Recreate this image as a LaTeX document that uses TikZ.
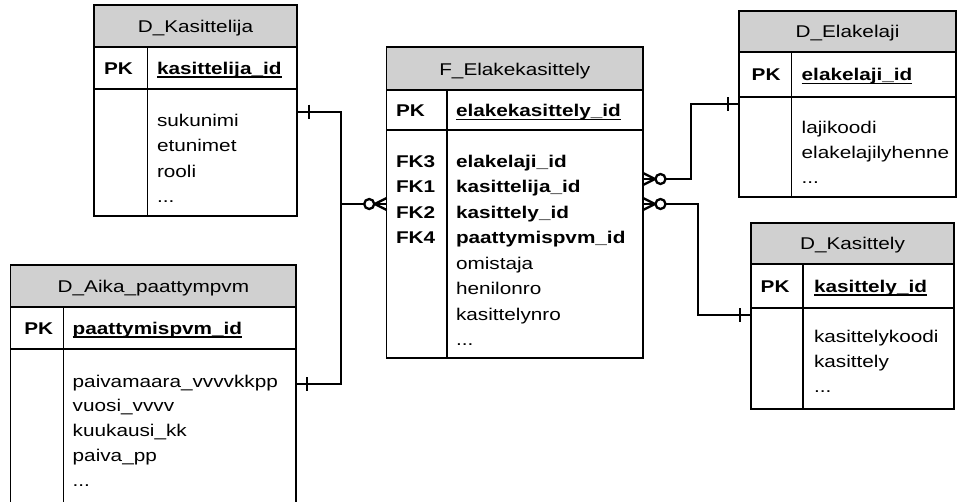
\documentclass[tikz,border=0pt]{standalone}
\usepackage{fontspec}
\setmainfont{Liberation Sans}[FakeStretch=1.22]
\usetikzlibrary{calc}

\definecolor{headgray}{RGB}{208,208,208}
\newcommand{\etc}{...}

\begin{document}
\begin{tikzpicture}[x=1pt,y=-1pt,
  every node/.style={inner sep=0pt, outer sep=0pt},
  frame/.style={draw=black, line width=1.4pt},
  grid/.style={draw=black, line width=1.4pt},
  head/.style={fill=headgray},
  txt/.style={anchor=base west, font=\fontsize{17}{20}\selectfont},
  keytxt/.style={anchor=base west, font=\fontsize{17}{20}\selectfont\bfseries},
  ttl/.style={anchor=base, font=\fontsize{17}{20}\selectfont},
  keyline/.style={draw=black, line width=1.7pt},
  rel/.style={draw=black, line width=2.3pt},
  bar/.pic={\draw[rel] (0,-7) -- (0,7);},
  zeromany/.pic={
    \draw[rel, line join=round] (0,-6) -- (-12,0) -- (0,6);
    \draw[rel] (-12,0) -- (0,0);
    \draw[rel, fill=white] (-17.5,0) circle[radius=5];
  }
]
\useasboundingbox (0,0) rectangle (957,501);

% ---------- D_Kasittelija ----------
\fill[head] (94,5) rectangle (297,47);
\draw[grid] (94,47) -- (297,47) (94,89) -- (297,89) (147.3,47) -- (147.3,216);
\node[frame, anchor=north west, minimum width=203pt, minimum height=211pt] (kas) at (94,5) {};
\node[ttl] (kasT) at (195.5,32) {D\_Kasittelija};
\node[keytxt] (kasPK) at (104,74) {PK};
\node[keytxt] (kasId) at (157,74) {kasittelija\_id};
\foreach \t [count=\i from 0] in {sukunimi, etunimet, rooli, \etc}
  \node[txt] (kasA\i) at (157,126.5+25.3*\i) {\t};

% ---------- D_Aika_paattympvm ----------
\fill[head] (10.7,265) rectangle (296,307);
\draw[grid] (10.7,307) -- (296,307) (10.7,349) -- (296,349) (63.3,307) -- (63.3,515);
\node[frame, anchor=north west, minimum width=285.3pt, minimum height=250pt] (aika) at (10.7,265) {};
\node[ttl] (aikaT) at (153.4,292) {D\_Aika\_paattympvm};
\node[keytxt] (aikaPK) at (24.3,334) {PK};
\node[keytxt] (aikaId) at (72.7,334) {paattymispvm\_id};
\foreach \t [count=\i from 0] in {paivamaara\_vvvvkkpp, vuosi\_vvvv, kuukausi\_kk, paiva\_pp, \etc}
  \node[txt] (aikaA\i) at (72.7,387+24.8*\i) {\t};

% ---------- F_Elakekasittely ----------
\fill[head] (386.7,47) rectangle (643,90);
\draw[grid] (386.7,90) -- (643,90) (386.7,130) -- (643,130) (447,90) -- (447,358);
\node[frame, anchor=north west, minimum width=256.3pt, minimum height=311pt] (fact) at (386.7,47) {};
\node[ttl] (factT) at (514.8,75) {F\_Elakekasittely};
\node[keytxt] (factPK) at (396,116.5) {PK};
\node[keytxt] (factId) at (456,116.5) {elakekasittely\_id};
\foreach \t [count=\i from 0] in {FK3, FK1, FK2, FK4}
  \node[keytxt] (factK\i) at (396,167.3+25.5*\i) {\t};
\foreach \t [count=\i from 0] in {elakelaji\_id, kasittelija\_id, kasittely\_id, paattymispvm\_id}
  \node[keytxt] (factF\i) at (456,167.3+25.5*\i) {\t};
\foreach \t [count=\i from 4] in {omistaja, henilonro, kasittelynro, \etc}
  \node[txt] (factA\i) at (456,167.3+25.5*\i) {\t};

% ---------- D_Elakelaji ----------
\fill[head] (739,11) rectangle (956,52);
\draw[grid] (739,52) -- (956,52) (739,97) -- (956,97) (791.7,52) -- (791.7,197);
\node[frame, anchor=north west, minimum width=217pt, minimum height=186pt] (laji) at (739,11) {};
\node[ttl] (lajiT) at (847.5,37.5) {D\_Elakelaji};
\node[keytxt] (lajiPK) at (751.7,80.5) {PK};
\node[keytxt] (lajiId) at (801.7,80.5) {elakelaji\_id};
\foreach \t [count=\i from 0] in {lajikoodi, elakelajilyhenne, \etc}
  \node[txt] (lajiA\i) at (801.7,133+25*\i) {\t};

% ---------- D_Kasittely ----------
\fill[head] (751,223) rectangle (954,264);
\draw[grid] (751,264) -- (954,264) (751,308) -- (954,308) (803,264) -- (803,409);
\node[frame, anchor=north west, minimum width=203pt, minimum height=186pt] (kasit) at (751,223) {};
\node[ttl] (kasitT) at (852.5,249.5) {D\_Kasittely};
\node[keytxt] (kasitPK) at (760.7,292) {PK};
\node[keytxt] (kasitId) at (814,292) {kasittely\_id};
\foreach \t [count=\i from 0] in {kasittelykoodi, kasittely, \etc}
  \node[txt] (kasitA\i) at (814,342+25*\i) {\t};

% ---------- primary key underlines ----------
\foreach \k in {kasId, aikaId, factId, lajiId, kasitId}
  \draw[keyline] ($(\k.base west)+(0,3)$) -- ($(\k.base east)+(0,3)$);

% ---------- relationships ----------
\coordinate (kasP) at ($(kas.north east)+(0,106.7)$);
\coordinate (aikaP) at ($(aika.north east)+(0,119)$);
\coordinate (bus) at (341,204);
\coordinate (factL) at (bus -| fact.west);
\coordinate (factR1) at ($(fact.north east)+(0,132)$);
\coordinate (factR2) at ($(fact.north east)+(0,157)$);
\coordinate (lajiP) at ($(laji.north west)+(0,93)$);
\coordinate (kasitP) at ($(kasit.north west)+(0,92)$);

\draw[rel] (kasP) -| (bus) -- (factL);
\draw[rel] (aikaP) -| (bus);
\draw[rel] (factR1) -- ++(48,0) |- (lajiP);
\draw[rel] (factR2) -- ++(55,0) |- (kasitP);

\pic at ($(kasP)+(12,0)$) {bar};
\pic at ($(aikaP)+(11,0)$) {bar};
\pic at ($(lajiP)+(-11,0)$) {bar};
\pic at ($(kasitP)+(-11,0)$) {bar};
\pic at (factL) {zeromany};
\pic[xscale=-1] at (factR1) {zeromany};
\pic[xscale=-1] at (factR2) {zeromany};
\end{tikzpicture}
\end{document}
